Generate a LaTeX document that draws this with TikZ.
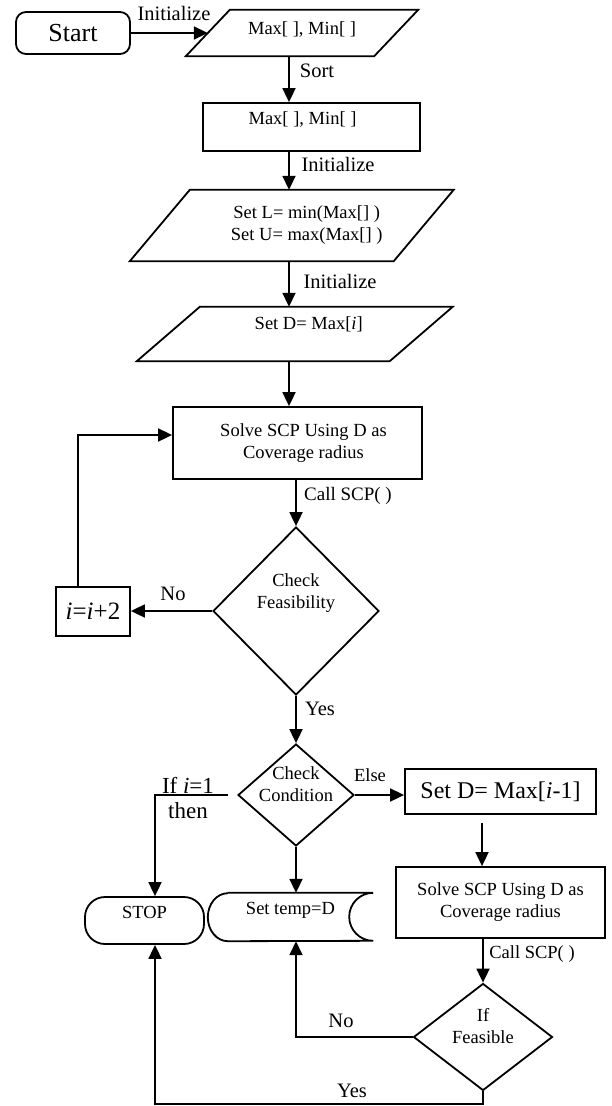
\documentclass[tikz,border=0pt]{standalone}
\usepackage{fontspec}
\setmainfont{Liberation Serif}
\usetikzlibrary{positioning, shapes.geometric, arrows.meta}
\newcommand{\bodytext}{\fontsize{18.5}{22}\selectfont}
\newcommand{\labeltext}{\fontsize{20.5}{24}\selectfont}
\tikzset{%
  block/.style={
    rectangle,
    draw,
    line width=1.8pt,
    align=center,
    font=\bodytext
  },
  io/.style={
    rectangle,
    align=center,
    font=\bodytext
  },
  terminal/.style={
    block,
    rounded corners=#1
  },
  decision/.style={
    diamond,
    draw,
    line width=1.8pt,
    inner sep=-12pt,
    align=center,
    font=\bodytext
  },
  flow/.style={->, line width=1.8pt},
  flow label/.style={inner sep=0pt, font=\labeltext},
}
\newcommand{\slantbox}[2]{%
  \draw [line width=1.8pt] ([xshift=#2]#1.north west) -- ([xshift=#2]#1.north east)
    -- ([xshift=-#2]#1.south east) -- ([xshift=-#2]#1.south west) -- cycle;}

\begin{document}
\begin{tikzpicture}[x=1pt, y=-1pt, >={Triangle[length=14pt, width=13pt]}]
\useasboundingbox (0,0) rectangle (611,1106);

% main column
\node [terminal=10pt, minimum width=114pt, minimum height=42pt, font=\fontsize{26}{30}\selectfont] (start) at (73,33) {Start};
\node [io, minimum width=188pt, minimum height=46pt, text depth=10pt] (in1) at (302,33) {Max[ ], Min[ ]};
\slantbox{in1}{22pt}
\node [block, minimum width=217pt, minimum height=48pt, text depth=18pt] (sorted) at (311.5,127) {Max[ ], Min[ ]\hspace*{18pt}};
\node [io, minimum width=263.5pt, minimum height=71pt] (in3) at (291.75,225.5) {\hspace*{30pt}Set L= min(Max[] )\\\hspace*{30pt}Set U= max(Max[] )};
\slantbox{in3}{30pt}
\node [io, minimum width=252.5pt, minimum height=54pt, text depth=22pt] (in4) at (294.75,334) {\hspace*{28pt}Set D= Max[\textit{i}]};
\slantbox{in4}{31.5pt}
\node [block, minimum width=249pt, minimum height=72pt] (solve) at (297.5,443) {\hspace*{12pt}Solve SCP Using D as\\\hspace*{12pt}Coverage radius};
\node [decision, minimum width=166pt, minimum height=168pt, text depth=40pt] (chk) at (296,611) {Check\\Feasibility};
\node [block, minimum width=74pt, minimum height=49pt, font=\fontsize{25}{30}\selectfont] (iplus) at (93,611.5) {\textit{i}=\textit{i}+2};
\node [decision, minimum width=116pt, minimum height=102pt, text depth=22pt] (cond) at (296,795) {Check\\Condition};

% right branch
\node [block, minimum width=191pt, minimum height=45pt, font=\fontsize{24}{28}\selectfont] (setd) at (500.5,791.5) {Set D= Max[\textit{i}-1]};
\node [block, minimum width=209pt, minimum height=71pt] (solve2) at (500.5,902.5) {Solve SCP Using D as\\Coverage radius};
\node [decision, minimum width=139pt, minimum height=107pt, text depth=22pt] (feas) at (483,1037) {If\\Feasible};

% end shapes
\node [terminal=20pt, minimum width=119pt, minimum height=47pt, text depth=16pt] (stop) at (144.5,920.5) {STOP};
\node [io, minimum width=165pt, minimum height=48pt, text depth=18pt] (temp) at (290.5,917) {Set temp=D};
\draw [line width=1.8pt] ([xshift=20pt]temp.north west) -- (temp.north east)
  arc [start angle=90, end angle=270, x radius=24pt, y radius=24pt]
  -- ([xshift=20pt]temp.south west)
  arc [start angle=270, end angle=90, x radius=20pt, y radius=24pt];

\coordinate (spine) at (289,0);
\coordinate (back) at (78,435);
\coordinate (col) at (482,0);
\coordinate (stopx) at (155,0);
\coordinate (floor) at (0,1104);

% connectors
\draw [flow] (start) -- (in1);
\draw [flow] (in1.south -| spine) -- (sorted.north -| spine);
\draw [flow] (sorted.south -| spine) -- (in3.north -| spine);
\draw [flow] (in3.south -| spine) -- (in4.north -| spine);
\draw [flow] (in4.south -| spine) -- (solve.north -| spine);
\draw [flow] (solve.south -| chk) -- (chk.north);
\draw [flow] (chk.west) -- (chk.west -| iplus.east);
\draw [flow] (iplus.north -| back) -- (back) -- (back -| solve.west);
\draw [flow] (chk.south) -- (cond.north);
\draw [flow] (cond.east) -- (cond.east -| setd.west);
\draw [flow, shorten <=8pt] (setd.south -| col) -- (solve2.north -| col);
\draw [flow] (solve2.south -| feas) -- (feas.north);
\draw [flow, shorten <=9pt] (cond.west) -| (stop.north -| stopx);
\draw [flow] (cond.south) -- (temp.north -| cond);
\draw [flow] (feas.west) -| (temp.south -| cond);
\draw [flow] (feas.south) -- (feas.south |- floor) -| (stop.south -| stopx);

% labels
\foreach \n/\x/\y in {1/174/13, 2/338/164, 3/340/281}
  \node [flow label] (l-init\n) at (\x,\y) {Initialize};
\node [flow label] (l-sort) at (317,71) {Sort};
\node [flow label, font=\fontsize{19}{22}\selectfont] (l-call1) at (348,496) {Call SCP( )};
\node [flow label] (l-no1) at (173,594) {No};
\node [flow label] (l-yes1) at (320,709) {Yes};
\node [flow label, font=\bodytext] (l-else) at (370,775) {Else};
\node [flow label, align=center, font=\fontsize{23}{25}\selectfont] (l-if) at (188,798) {If \textit{i}=1\\then};
\node [flow label, font=\bodytext] (l-call2) at (532,954) {Call SCP( )};
\node [flow label] (l-no2) at (341,1021) {No};
\node [flow label] (l-yes2) at (352,1091) {Yes};
\end{tikzpicture}
\end{document}
